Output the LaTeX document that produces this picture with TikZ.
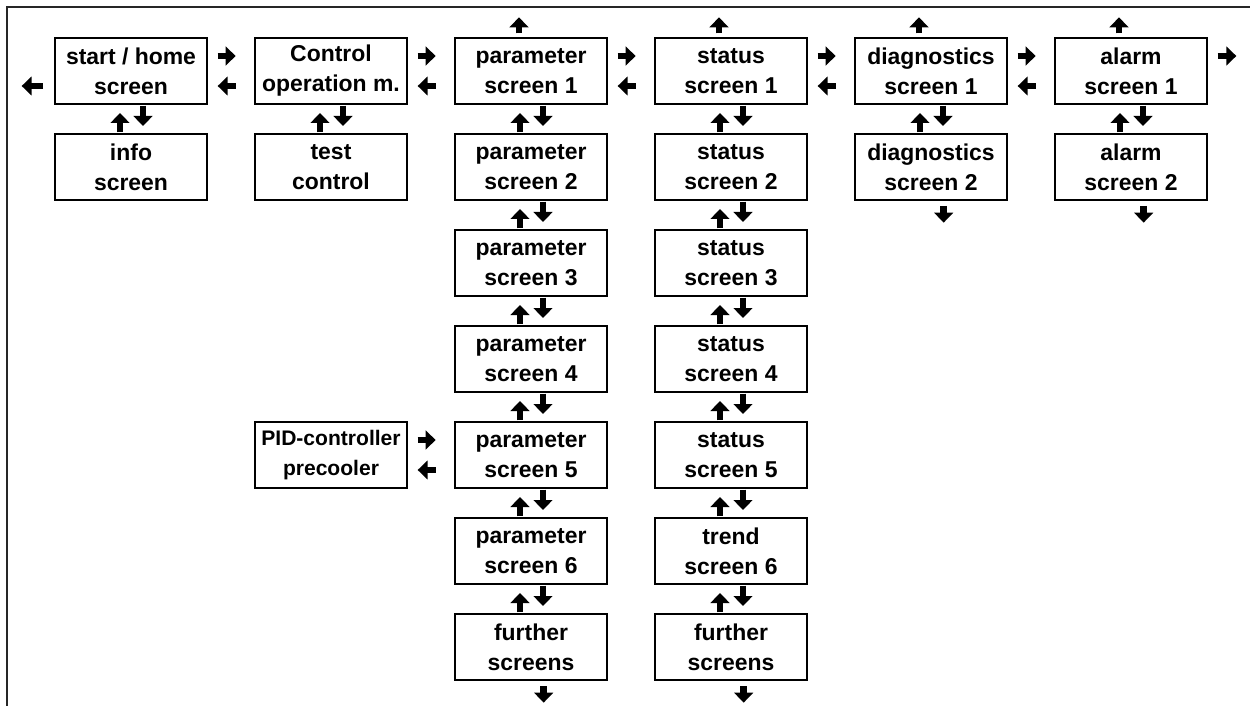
\documentclass[tikz,border=0pt]{standalone}
\usepackage{fontspec}
\setmainfont{Liberation Sans}
\usetikzlibrary{positioning,calc,arrows.meta}

\begin{document}
\begin{tikzpicture}[
	node distance=22.5pt and 36pt,
	screen/.style={draw,line width=1pt,outer sep=0pt,minimum width=114pt,minimum height=49.5pt,
		inner sep=0pt,align=center,font=\bfseries\fontsize{17.2}{22.5}\selectfont},
	nav/.style={line width=5pt,-{Triangle[length=7.5pt,width=14pt]}}
	]
	\useasboundingbox (0,0) rectangle (937.5pt,-529.5pt);
	\draw [line width=1.5pt,black!85] (5.25pt,-529.5pt) -- (5.25pt,-5.25pt) -- (937.5pt,-5.25pt);

	% top row
	\node [screen] (home) at (98.25pt,-53.25pt) {start / home\\screen};
	\node [screen,right=of home] (ctrl) {Control\\operation m.};
	\node [screen,right=of ctrl] (p1) {parameter\\screen 1};
	\node [screen,right=of p1] (s1) {status\\screen 1};
	\node [screen,right=of s1] (d1) {diagnostics\\screen 1};
	\node [screen,right=of d1] (a1) {alarm\\screen 1};

	% second row
	\node [screen,below=of home] (info) {info\\screen};
	\node [screen,below=of ctrl] (test) {test\\control};
	\node [screen,below=of d1] (d2) {diagnostics\\screen 2};
	\node [screen,below=of a1] (a2) {alarm\\screen 2};

	% parameter and status columns
	\foreach \i [count=\j from 2] in {1,...,5} {
		\node [screen,below=of p\i] (p\j) {parameter\\screen \j};
	}
	\foreach \i [count=\j from 2] in {1,...,4} {
		\node [screen,below=of s\i] (s\j) {status\\screen \j};
	}
	\node [screen,below=of s5] (s6) {trend\\screen 6};
	\node [screen,below=of p6] (p7) {further\\screens};
	\node [screen,below=of s6] (s7) {further\\screens};
	\node [screen,left=of p5,font=\bfseries\fontsize{15.8}{22.5}\selectfont] (pid) {PID-controller\\precooler};

	% left / right navigation
	\foreach \a/\b in {home/ctrl,ctrl/p1,p1/s1,s1/d1,d1/a1,pid/p5} {
		\draw [nav] ($(\a.east)!.5!(\b.west)+(-10pt,11.25pt)$) -- ($(\a.east)!.5!(\b.west)+(3.5pt,11.25pt)$);
		\draw [nav] ($(\a.east)!.5!(\b.west)+(3.5pt,-11.25pt)$) -- ($(\a.east)!.5!(\b.west)+(-10pt,-11.25pt)$);
	}
	\draw [nav] ([xshift=-9pt,yshift=-11.25pt]home.west) -- ([xshift=-25pt,yshift=-11.25pt]home.west);
	\draw [nav] ([xshift=8pt,yshift=11.25pt]a1.east) -- ([xshift=22pt,yshift=11.25pt]a1.east);

	% up / down navigation
	\foreach \a/\b in {home/info,ctrl/test,p1/p2,p2/p3,p3/p4,p4/p5,p5/p6,p6/p7,
		s1/s2,s2/s3,s3/s4,s4/s5,s5/s6,s6/s7,d1/d2,a1/a2} {
		\draw [nav] ($(\a.south)!.5!(\b.north)+(-8.25pt,-10pt)$) -- ($(\a.south)!.5!(\b.north)+(-8.25pt,4.5pt)$);
		\draw [nav] ($(\a.south)!.5!(\b.north)+(9pt,10pt)$) -- ($(\a.south)!.5!(\b.north)+(9pt,-5.25pt)$);
	}
	\foreach \a in {p1,s1,d1,a1}
		\draw [nav] ([xshift=-9pt,yshift=3.5pt]\a.north) -- ([xshift=-9pt,yshift=15.5pt]\a.north);
	\foreach \a in {d2,a2,p7,s7}
		\draw [nav] ([xshift=9.5pt,yshift=-4.5pt]\a.south) -- ([xshift=9.5pt,yshift=-17pt]\a.south);
\end{tikzpicture}
\end{document}
